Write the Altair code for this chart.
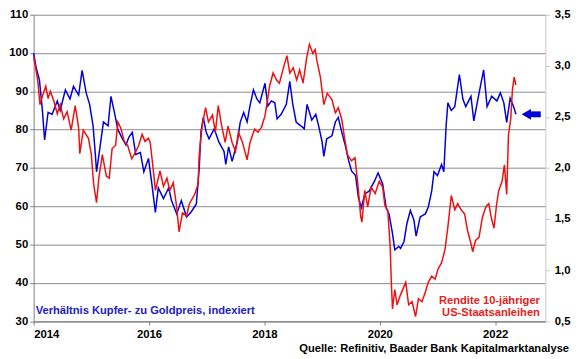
import altair as alt
import pandas as pd

# Copper/gold ratio (indexed, left axis)
blue_year = [2014.00, 2014.04, 2014.10, 2014.15, 2014.19, 2014.25, 2014.32, 2014.41, 2014.46, 2014.55,
             2014.63, 2014.69, 2014.78, 2014.84, 2014.91, 2014.97, 2015.03, 2015.07, 2015.09, 2015.14,
             2015.21, 2015.29, 2015.34, 2015.40, 2015.46, 2015.54, 2015.60, 2015.65, 2015.71, 2015.77,
             2015.85, 2015.91, 2015.99, 2016.05, 2016.11, 2016.16, 2016.25, 2016.34, 2016.39, 2016.48,
             2016.56, 2016.65, 2016.73, 2016.82, 2016.87, 2016.90, 2016.94, 2016.99, 2017.04, 2017.13,
             2017.21, 2017.30, 2017.33, 2017.38, 2017.44, 2017.53, 2017.58, 2017.64, 2017.70, 2017.75,
             2017.81, 2017.87, 2017.92, 2018.01, 2018.06, 2018.12, 2018.18, 2018.22, 2018.29, 2018.38,
             2018.44, 2018.49, 2018.55, 2018.63, 2018.69, 2018.74, 2018.82, 2018.89, 2018.94, 2019.00,
             2019.03, 2019.08, 2019.17, 2019.23, 2019.28, 2019.34, 2019.40, 2019.45, 2019.51, 2019.58,
             2019.63, 2019.68, 2019.74, 2019.82, 2019.91, 2019.97, 2020.05, 2020.11, 2020.16, 2020.22,
             2020.26, 2020.33, 2020.36, 2020.42, 2020.47, 2020.53, 2020.59, 2020.63, 2020.70, 2020.79,
             2020.84, 2020.90, 2020.94, 2021.00, 2021.07, 2021.11, 2021.15, 2021.18, 2021.24, 2021.30,
             2021.38, 2021.44, 2021.49, 2021.58, 2021.63, 2021.71, 2021.80, 2021.86, 2021.94, 2022.03,
             2022.09, 2022.15, 2022.20, 2022.26, 2022.32, 2022.36]
blue_value = [100, 96.4, 93, 85.3, 77.3, 84.5, 84, 87.5, 85, 90.4,
              88, 91.3, 89, 95.5, 89.6, 86.6, 81, 73.4, 69, 74.3,
              82, 81, 88.7, 84.5, 80, 77.6, 76, 78, 79.3, 73.5,
              74, 69, 72.5, 65.7, 58.4, 64.8, 62, 64.8, 61.5, 58,
              61.5, 57.2, 58.5, 60.6, 70, 79.4, 83.2, 79.4, 77.6, 80.2,
              76.8, 74.3, 70.9, 75.5, 71.7, 76.8, 81.9, 84.5, 82, 86.2,
              90.4, 88, 87, 92.1, 86.2, 87.5, 87, 82.8, 84, 86.6,
              92.6, 86.8, 82, 81, 80.2, 86.6, 82.5, 84, 81, 76.8,
              73, 77.6, 78.4, 82, 83.2, 79.4, 76, 72.5, 69.2, 68,
              62.2, 59.6, 63.2, 64, 66.6, 68.7, 65.8, 59.6, 58, 52.9,
              48.6, 49.5, 49, 50.8, 55.5, 58.9, 56.5, 52.2, 57.2, 58,
              59.7, 64, 69, 68, 70.9, 69, 81, 87, 85, 86,
              94.4, 88, 86, 88.7, 82.3, 88.7, 95.6, 86, 88.7, 87.5,
              89.6, 87, 81.9, 88.2, 86, 84]

# 10-year US Treasury yield (right axis, %)
red_year = [2014.00, 2014.07, 2014.11, 2014.15, 2014.21, 2014.25, 2014.29, 2014.35, 2014.41, 2014.46,
            2014.52, 2014.58, 2014.65, 2014.72, 2014.78, 2014.80, 2014.86, 2014.95, 2015.00, 2015.04,
            2015.09, 2015.13, 2015.19, 2015.26, 2015.31, 2015.36, 2015.42, 2015.46, 2015.51, 2015.57,
            2015.63, 2015.70, 2015.77, 2015.82, 2015.88, 2015.93, 2015.99, 2016.02, 2016.07, 2016.11,
            2016.19, 2016.25, 2016.31, 2016.36, 2016.42, 2016.48, 2016.52, 2016.58, 2016.65, 2016.70,
            2016.79, 2016.85, 2016.87, 2016.92, 2016.98, 2017.03, 2017.10, 2017.15, 2017.20, 2017.26,
            2017.32, 2017.37, 2017.44, 2017.50, 2017.55, 2017.62, 2017.70, 2017.75, 2017.83, 2017.89,
            2017.95, 2018.01, 2018.05, 2018.09, 2018.15, 2018.21, 2018.26, 2018.32, 2018.39, 2018.44,
            2018.50, 2018.56, 2018.61, 2018.67, 2018.73, 2018.78, 2018.84, 2018.88, 2018.91, 2018.97,
            2019.03, 2019.09, 2019.17, 2019.23, 2019.28, 2019.34, 2019.39, 2019.44, 2019.51, 2019.57,
            2019.62, 2019.67, 2019.69, 2019.74, 2019.79, 2019.85, 2019.92, 2019.99, 2020.05, 2020.09,
            2020.14, 2020.18, 2020.20, 2020.22, 2020.26, 2020.30, 2020.36, 2020.45, 2020.50, 2020.56,
            2020.62, 2020.67, 2020.73, 2020.79, 2020.84, 2020.90, 2020.96, 2021.01, 2021.07, 2021.13,
            2021.18, 2021.24, 2021.30, 2021.35, 2021.41, 2021.47, 2021.52, 2021.58, 2021.61, 2021.66,
            2021.72, 2021.78, 2021.84, 2021.89, 2021.93, 2021.98, 2022.02, 2022.06, 2022.12, 2022.16,
            2022.20, 2022.23, 2022.27, 2022.30, 2022.33, 2022.36]
red_value = [3.09, 2.86, 2.62, 2.70, 2.80, 2.68, 2.75, 2.655, 2.53, 2.62,
             2.48, 2.55, 2.37, 2.61, 2.39, 2.14, 2.37, 2.29, 2.13, 1.84,
             1.66, 1.90, 2.13, 1.92, 1.90, 2.19, 2.22, 2.45, 2.39, 2.26,
             2.22, 2.09, 2.16, 2.22, 2.33, 2.26, 2.29, 2.25, 2.0, 1.78,
             1.97, 1.82, 1.90, 1.78, 1.855, 1.615, 1.375, 1.56, 1.53, 1.65,
             1.74, 1.84, 2.13, 2.41, 2.59, 2.45, 2.52, 2.35, 2.61, 2.41,
             2.25, 2.41, 2.25, 2.16, 2.35, 2.25, 2.08, 2.25, 2.38, 2.35,
             2.40, 2.51, 2.65, 2.80, 2.93, 2.86, 2.83, 2.96, 3.10, 2.93,
             2.98, 2.86, 2.96, 2.83, 3.07, 3.21, 3.12, 3.16, 3.05, 2.89,
             2.62, 2.73, 2.67, 2.54, 2.59, 2.48, 2.29, 2.13, 2.07, 2.10,
             1.84, 1.52, 1.47, 1.78, 1.62, 1.81, 1.75, 1.87, 1.81, 1.63,
             1.58, 1.23, 0.88, 0.62, 0.81, 0.66, 0.76, 0.88, 0.66, 0.69,
             0.545, 0.72, 0.69, 0.785, 0.88, 0.94, 0.91, 1.01, 1.07, 1.20,
             1.42, 1.73, 1.59, 1.65, 1.59, 1.55, 1.39, 1.26, 1.18, 1.29,
             1.32, 1.52, 1.62, 1.65, 1.52, 1.41, 1.62, 1.775, 1.87, 2.03,
             1.74, 2.32, 2.48, 2.77, 2.89, 2.81]

year_ticks = [2014, 2016, 2018, 2020, 2022]
left_ticks = [30, 40, 50, 60, 70, 80, 90, 100, 110]
right_ticks = [0.5, 1.0, 1.5, 2.0, 2.5, 3.0, 3.5]

arrow_shaft = pd.DataFrame({"year": [2022.57], "year2": [2022.79], "value": [84]})
arrow_head = pd.DataFrame({"year": [2022.54], "value": [84]})

BLUE = "#0000d8"
RED = "#f01010"
FONT = "Liberation Sans"

blue_df = pd.DataFrame({"year": blue_year, "value": blue_value})
red_df = pd.DataFrame({"year": red_year, "value": red_value})

xscale = alt.Scale(domain=[2014, 2022.87], nice=False, zero=False)
xaxis = alt.Axis(values=year_ticks, format="d", title=None, grid=False,
                 domainColor="#808080", tickColor="#808080", tickSize=4,
                 labelPadding=4, labelFontSize=11.5, labelFontWeight="bold",
                 labelColor="black", labelFont=FONT, labelOverlap=False)

yl_scale = alt.Scale(domain=[30, 110], nice=False, zero=False)
yl_axis = alt.Axis(values=left_ticks, title=None, grid=True, gridColor="#8a8a8a",
                   gridWidth=1, domainColor="#808080", tickColor="#808080",
                   tickSize=4, labelPadding=2, labelFontSize=11.5,
                   labelFontWeight="bold", labelColor="black", labelFont=FONT,
                   labelOverlap=False)

X = alt.X("year:Q", scale=xscale, axis=xaxis)
YL = alt.Y("value:Q", scale=yl_scale, axis=yl_axis)

blue_line = alt.Chart(blue_df).mark_line(color=BLUE, strokeWidth=1.5).encode(x=X, y=YL)

shaft = alt.Chart(arrow_shaft).mark_rule(color=BLUE, strokeWidth=6, strokeCap="butt").encode(
    x=X, x2="year2:Q", y=YL,
)
head = alt.Chart(arrow_head).mark_point(shape="triangle-left", filled=True, size=121,
                                        color=BLUE, opacity=1).encode(x=X, y=YL)

blue_layer = alt.layer(blue_line, shaft, head)

red_line = alt.Chart(red_df).mark_line(color=RED, strokeWidth=1.5).encode(
    x=X,
    y=alt.Y("value:Q", scale=alt.Scale(domain=[0.5, 3.5], nice=False, zero=False),
            axis=alt.Axis(orient="right", values=right_ticks, format=".1f",
                          labelExpr="replace(datum.label, '.', ',')", title=None,
                          grid=False, domainColor="#c8c8c8", tickColor="#c8c8c8",
                          tickSize=4, labelPadding=5, labelFontSize=11.5,
                          labelFontWeight="bold", labelColor="black", labelFont=FONT,
                          labelOverlap=False)),
)

txt = pd.DataFrame({"d": [0]})
blue_label = alt.Chart(txt).mark_text(
    text="Verhältnis Kupfer- zu Goldpreis, indexiert", color="#2020c8", font=FONT,
    fontWeight="bold", fontSize=11.3, align="left", baseline="middle"
).encode(x=alt.value(2), y=alt.value(300.5))
red_label1 = alt.Chart(txt).mark_text(
    text="Rendite 10-jähriger", color="#e82020", font=FONT,
    fontWeight="bold", fontSize=11.3, align="right", baseline="middle"
).encode(x=alt.value(513), y=alt.value(290))
red_label2 = alt.Chart(txt).mark_text(
    text="US-Staatsanleihen", color="#e82020", font=FONT,
    fontWeight="bold", fontSize=11.3, align="right", baseline="middle"
).encode(x=alt.value(513), y=alt.value(302.5))
source = alt.Chart(txt).mark_text(
    text="Quelle: Refinitiv, Baader Bank Kapitalmarktanalyse", color="black", font=FONT,
    fontWeight="bold", fontSize=11.3, align="right", baseline="middle"
).encode(x=alt.value(542.5), y=alt.value(339))

chart = alt.layer(
    blue_layer, red_line, blue_label, red_label1, red_label2, source
).resolve_scale(y="independent").properties(
    width=518.5, height=310.5,
    padding={"left": 26, "top": 4.5, "right": 27, "bottom": 34},
    autosize=alt.AutoSizeParams(type="none"),
    background="white",
).configure_view(stroke=None)

chart.save("out.html", embed_options={"renderer": "svg", "actions": False})
